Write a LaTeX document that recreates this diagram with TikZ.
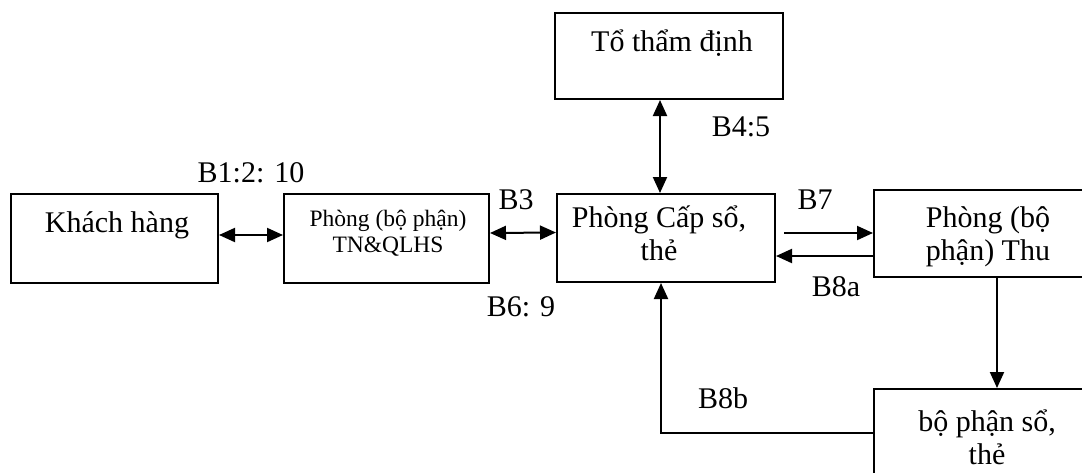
\documentclass[tikz,border=0pt]{standalone}
\usepackage{fontspec}
\setmainfont{Liberation Serif}
\usetikzlibrary{arrows.meta}
\begin{document}
\begin{tikzpicture}[x=1pt,y=-1pt,
  box/.style={draw,line width=2pt,inner sep=0pt},
  txt/.style={font=\fontsize{30}{33}\selectfont,align=center,inner sep=0pt},
  small/.style={font=\fontsize{23.5}{26}\selectfont,align=center,inner sep=0pt},
  lbl/.style={font=\fontsize{30}{33}\selectfont,inner sep=0pt},
  conn/.style={line width=2pt,-{Triangle[length=16pt,width=14pt]}},
  both/.style={line width=2pt,{Triangle[length=16pt,width=14pt]}-{Triangle[length=16pt,width=14pt]}}]
\clip (0,0) rectangle (1082,472);
\fill[white] (0,0) rectangle (1082,472);
% boxes
\node[box,minimum width=207pt,minimum height=89pt] (kh) at (114.5,238.5) {};
\node[box,minimum width=205pt,minimum height=89pt] (tn) at (386.5,238.5) {};
\node[box,minimum width=218pt,minimum height=88pt] (cap) at (666,238) {};
\node[box,minimum width=228pt,minimum height=86pt] (to) at (669,56) {};
\node[box,minimum width=228pt,minimum height=87pt] (thu) at (988,233.5) {};
\node[box,minimum width=228pt,minimum height=91pt] (bp) at (988,434.5) {};
% texts
\node[txt] (khT) at (117,225) {Khách hàng};
\node[small] (tnT) at (388,233) {Phòng (bộ phận)\\TN\&QLHS};
\node[txt] (capT) at (659,233.5) {Phòng Cấp sổ,\\thẻ};
\node[txt] (toT) at (672,43) {Tổ thẩm định};
\node[txt] (thuT) at (988,236.5) {Phòng (bộ\\phận) Thu};
\node[txt] (bpT) at (987,437.5) {bộ phận sổ,\\thẻ};
% labels
\node[lbl] (l1) at (251,173) {B1:2: 10};
\node[lbl] (l3) at (516,200) {B3};
\node[lbl] (l6) at (521,307) {B6: 9};
\node[lbl] (l4) at (741,127) {B4:5};
\node[lbl] (l7) at (815,200) {B7};
\node[lbl] (l8a) at (836,287) {B8a};
\node[lbl] (l8b) at (723,398) {B8b};
% connectors
\draw[both] ([yshift=3.5pt]kh.east) -- ([yshift=3.5pt]tn.west);
\draw[both] ([yshift=5.5pt]tn.east) -- ([yshift=5.5pt]cap.west);
\draw[both] ([xshift=-9pt]to.south) -- ([xshift=-6pt]cap.north);
\coordinate (b7s) at ([xshift=8pt,yshift=5pt]cap.east);
\draw[conn] (b7s) -- (b7s -| thu.west);
\coordinate (b8s) at ([yshift=-22.5pt]thu.west);
\draw[conn] (b8s) -- (b8s -| cap.east);
\draw[conn] ([xshift=9pt]thu.south) -- ([xshift=9pt]thu.south |- bp.north);
\coordinate (b8c) at ([xshift=-5pt]cap.south |- 0,433);
\draw[conn] (bp.west |- 0,433) -- (b8c) -- ([xshift=-5pt]cap.south);
\end{tikzpicture}
\end{document}
